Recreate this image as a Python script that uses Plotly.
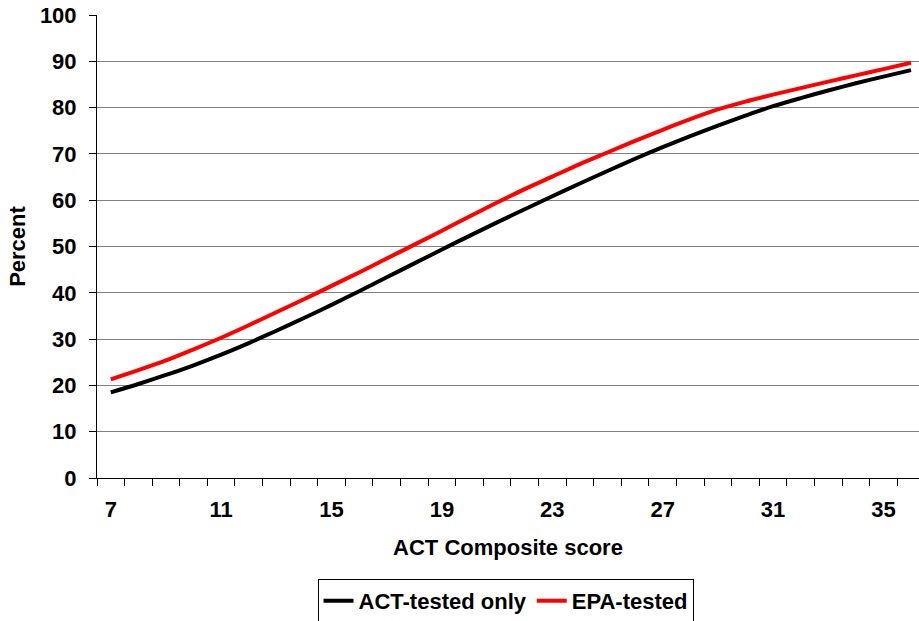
import plotly.graph_objects as go

scores = list(range(7, 37))
act_only = [18.5, 20.3, 22.25, 24.35, 26.65, 29.15, 31.8, 34.55, 37.4, 40.35,
            43.35, 46.35, 49.35, 52.3, 55.2, 58.05, 60.85, 63.6, 66.3, 68.95,
            71.45, 73.85, 76.1, 78.25, 80.3, 82.05, 83.7, 85.25, 86.7, 88.1]
epa_tested = [21.3, 23.3, 25.4, 27.8, 30.3, 33.0, 35.8, 38.6, 41.5, 44.4,
              47.4, 50.4, 53.4, 56.5, 59.5, 62.4, 65.1, 67.8, 70.3, 72.8,
              75.2, 77.5, 79.6, 81.3, 82.8, 84.2, 85.6, 86.95, 88.3, 89.7]
x_tick_labels = [7, 11, 15, 19, 23, 27, 31, 35]
y_ticks = list(range(0, 101, 10))

FONT = "Arial, 'Liberation Sans', sans-serif"
FS = 22

fig = go.Figure()
fig.add_trace(go.Scatter(x=scores, y=act_only, mode="lines", name="ACT-tested only",
                         line=dict(color="black", width=4, shape="spline", smoothing=0.8)))
fig.add_trace(go.Scatter(x=scores, y=epa_tested, mode="lines", name="EPA-tested",
                         line=dict(color="#ff0000", width=4, shape="spline", smoothing=0.8)))

fig.update_layout(
    width=919, height=621,
    margin=dict(l=97, r=0, t=15, b=143, autoexpand=False),
    paper_bgcolor="white", plot_bgcolor="white",
    font=dict(family=FONT, size=FS, color="black", weight="bold"),
    showlegend=True,
    legend=dict(orientation="h", x=0.497, xanchor="center", y=-0.218, yanchor="top",
                bordercolor="black", borderwidth=1, bgcolor="white",
                font=dict(family=FONT, size=FS, color="black", weight="bold"),
                itemwidth=30, tracegroupgap=0),
)
fig.update_xaxes(
    range=[6.5, 36.29], automargin=False,
    tickmode="array", tickvals=x_tick_labels, ticktext=[str(v) for v in x_tick_labels],
    ticks="", ticklabelstandoff=12,
    minor=dict(tick0=6.5, dtick=1, ticks="outside", ticklen=7, tickcolor="black", tickwidth=1, showgrid=False),
    showgrid=False, zeroline=False,
    showline=True, linecolor="black", linewidth=1,
    title=dict(text="ACT Composite score", standoff=18,
               font=dict(family=FONT, size=FS, color="black", weight="bold")),
)
fig.update_yaxes(
    range=[0, 100], tickmode="array", tickvals=y_ticks, automargin=False,
    ticks="outside", ticklen=7, tickcolor="black", tickwidth=1, ticklabelstandoff=8,
    showgrid=True, gridcolor="#808080", gridwidth=1,
    zeroline=False, showline=True, linecolor="black", linewidth=1,
    title=dict(text="Percent", standoff=8,
               font=dict(family=FONT, size=FS, color="black", weight="bold")),
)

fig.write_html("out.html", config={"displayModeBar": False},
               post_script="document.body.style.margin='0';document.body.style.padding='0';document.body.style.overflow='hidden';")
